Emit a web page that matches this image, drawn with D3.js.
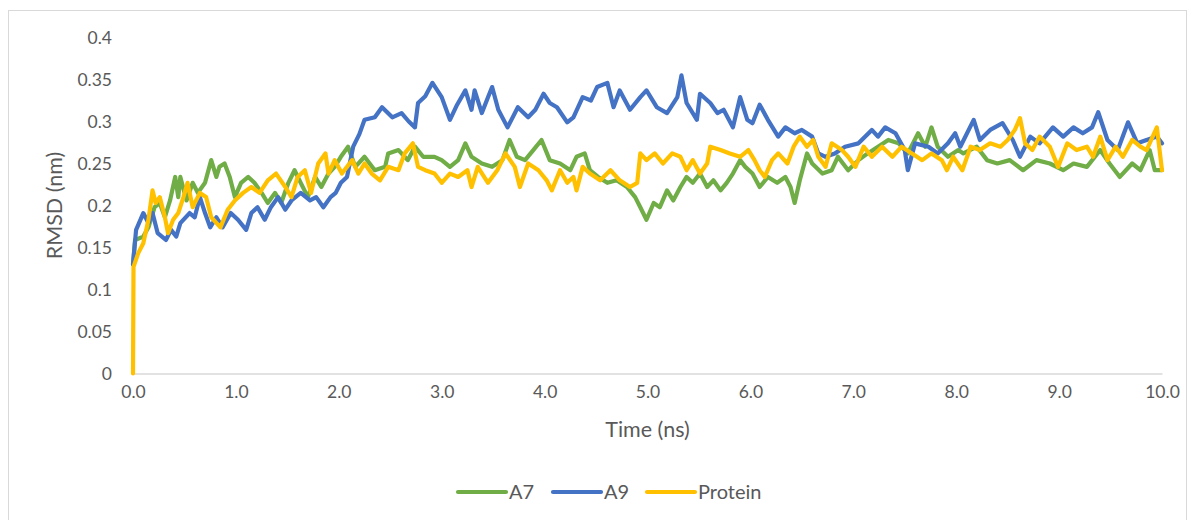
<!DOCTYPE html>
<html><head><meta charset="utf-8">
<script src="https://cdn.jsdelivr.net/npm/d3@7"></script>
<style>body{margin:0;background:#fff}svg{display:block}</style>
</head><body>
<script>
// ---- data ----
const seriesNames = ["A7", "A9", "Protein"];
const xTicks = [0,1,2,3,4,5,6,7,8,9,10];
const yTicks = [0,0.05,0.1,0.15,0.2,0.25,0.3,0.35,0.4];

const tA7 = [0,0.02,0.1,0.15,0.21,0.26,0.31,0.36,0.41,0.44,0.46,0.52,0.58,0.63,0.7,0.76,0.81,0.84,0.89,0.94,0.99,1.05,1.12,1.18,1.25,1.31,1.38,1.44,1.51,1.57,1.63,1.7,1.77,1.83,1.9,1.96,2.02,2.09,2.16,2.25,2.35,2.45,2.48,2.58,2.67,2.74,2.82,2.93,3.0,3.08,3.16,3.23,3.29,3.39,3.49,3.59,3.66,3.73,3.81,3.89,3.97,4.05,4.15,4.25,4.31,4.39,4.44,4.52,4.61,4.7,4.8,4.88,4.93,4.99,5.06,5.12,5.19,5.25,5.32,5.38,5.44,5.51,5.58,5.64,5.71,5.77,5.83,5.9,5.95,6.02,6.09,6.17,6.26,6.34,6.39,6.43,6.48,6.55,6.6,6.7,6.79,6.85,6.95,7.05,7.14,7.24,7.34,7.44,7.53,7.63,7.7,7.76,7.82,7.92,8.02,8.07,8.2,8.3,8.4,8.52,8.65,8.78,8.91,9.04,9.14,9.27,9.4,9.49,9.59,9.71,9.79,9.88,9.93,10.0];
const vA7 = [0.13,0.159,0.163,0.174,0.198,0.203,0.186,0.206,0.234,0.21,0.234,0.206,0.227,0.215,0.227,0.254,0.234,0.246,0.25,0.234,0.21,0.227,0.234,0.227,0.215,0.203,0.215,0.203,0.227,0.242,0.227,0.21,0.234,0.222,0.238,0.246,0.258,0.27,0.246,0.258,0.242,0.246,0.262,0.266,0.254,0.27,0.258,0.258,0.254,0.246,0.254,0.274,0.258,0.25,0.246,0.254,0.278,0.258,0.254,0.266,0.278,0.254,0.25,0.242,0.258,0.262,0.242,0.234,0.227,0.23,0.222,0.21,0.198,0.183,0.203,0.198,0.218,0.206,0.222,0.234,0.227,0.238,0.222,0.23,0.218,0.227,0.238,0.254,0.246,0.238,0.222,0.234,0.227,0.234,0.222,0.203,0.23,0.262,0.25,0.238,0.242,0.258,0.242,0.254,0.262,0.27,0.278,0.274,0.262,0.286,0.27,0.293,0.27,0.258,0.266,0.262,0.27,0.254,0.25,0.254,0.242,0.254,0.25,0.242,0.25,0.246,0.266,0.25,0.234,0.25,0.242,0.266,0.242,0.242];

const tA9 = [0,0.03,0.1,0.15,0.19,0.24,0.32,0.37,0.42,0.46,0.55,0.6,0.65,0.7,0.75,0.81,0.87,0.95,1.02,1.1,1.15,1.21,1.28,1.34,1.41,1.48,1.54,1.63,1.72,1.78,1.85,1.92,1.97,2.02,2.08,2.14,2.2,2.25,2.35,2.42,2.52,2.61,2.68,2.74,2.77,2.84,2.91,3.0,3.08,3.15,3.23,3.29,3.32,3.39,3.45,3.49,3.55,3.64,3.74,3.84,3.91,3.99,4.05,4.12,4.22,4.28,4.37,4.45,4.51,4.61,4.67,4.73,4.83,4.93,4.99,5.09,5.19,5.29,5.33,5.38,5.48,5.51,5.61,5.68,5.74,5.83,5.9,5.97,6.02,6.09,6.17,6.27,6.34,6.43,6.5,6.6,6.66,6.73,6.82,6.92,7.05,7.18,7.24,7.31,7.41,7.5,7.53,7.6,7.73,7.82,7.92,7.99,8.04,8.17,8.23,8.33,8.45,8.55,8.62,8.72,8.81,8.94,9.04,9.14,9.23,9.32,9.38,9.47,9.57,9.67,9.76,9.85,9.95,10.0];
const vA9 = [0.13,0.171,0.191,0.179,0.191,0.167,0.159,0.171,0.163,0.179,0.191,0.186,0.21,0.191,0.174,0.186,0.174,0.191,0.183,0.171,0.191,0.198,0.183,0.198,0.21,0.195,0.206,0.215,0.206,0.21,0.198,0.21,0.215,0.227,0.234,0.27,0.285,0.302,0.305,0.317,0.305,0.31,0.3,0.293,0.322,0.33,0.346,0.329,0.302,0.32,0.337,0.314,0.337,0.31,0.329,0.341,0.314,0.293,0.317,0.305,0.314,0.333,0.322,0.317,0.299,0.305,0.329,0.325,0.341,0.346,0.317,0.337,0.314,0.329,0.337,0.317,0.31,0.329,0.355,0.322,0.302,0.333,0.322,0.31,0.314,0.293,0.329,0.302,0.298,0.32,0.302,0.282,0.293,0.286,0.29,0.282,0.262,0.258,0.262,0.27,0.274,0.29,0.282,0.293,0.286,0.266,0.242,0.274,0.27,0.262,0.274,0.286,0.27,0.302,0.278,0.29,0.298,0.278,0.258,0.282,0.274,0.293,0.282,0.293,0.286,0.293,0.311,0.278,0.266,0.299,0.274,0.278,0.282,0.274];

const tProtein = [0,0.005,0.05,0.1,0.15,0.19,0.22,0.26,0.31,0.34,0.39,0.44,0.49,0.53,0.58,0.65,0.71,0.76,0.85,0.92,0.99,1.07,1.15,1.23,1.31,1.39,1.48,1.54,1.6,1.67,1.73,1.8,1.87,1.9,1.96,2.03,2.13,2.19,2.25,2.32,2.4,2.48,2.58,2.64,2.72,2.77,2.84,2.93,3.0,3.08,3.16,3.25,3.29,3.35,3.45,3.54,3.62,3.71,3.76,3.84,3.94,4.02,4.07,4.15,4.22,4.28,4.31,4.37,4.44,4.54,4.64,4.73,4.83,4.9,4.93,4.99,5.07,5.15,5.24,5.32,5.38,5.44,5.51,5.58,5.61,5.71,5.8,5.9,5.98,6.04,6.09,6.14,6.21,6.27,6.36,6.42,6.48,6.55,6.61,6.66,6.73,6.79,6.89,6.95,7.02,7.1,7.18,7.28,7.38,7.47,7.57,7.67,7.76,7.86,7.91,7.97,8.06,8.14,8.23,8.33,8.43,8.5,8.57,8.62,8.67,8.74,8.81,8.91,8.99,9.08,9.17,9.27,9.33,9.4,9.47,9.55,9.62,9.71,9.79,9.85,9.95,10.0];
const vProtein = [0,0.127,0.143,0.155,0.183,0.218,0.203,0.21,0.186,0.167,0.183,0.191,0.21,0.227,0.198,0.215,0.21,0.186,0.174,0.195,0.206,0.215,0.222,0.215,0.23,0.238,0.222,0.21,0.234,0.242,0.215,0.25,0.262,0.238,0.254,0.238,0.254,0.238,0.25,0.238,0.23,0.246,0.242,0.262,0.274,0.246,0.242,0.238,0.227,0.238,0.234,0.242,0.222,0.246,0.227,0.242,0.262,0.246,0.222,0.25,0.242,0.23,0.218,0.242,0.227,0.234,0.218,0.246,0.238,0.23,0.242,0.23,0.222,0.227,0.262,0.254,0.262,0.25,0.262,0.258,0.242,0.254,0.238,0.25,0.27,0.266,0.262,0.258,0.266,0.254,0.242,0.234,0.254,0.262,0.25,0.27,0.282,0.27,0.278,0.258,0.246,0.274,0.266,0.258,0.246,0.27,0.258,0.27,0.258,0.27,0.262,0.254,0.262,0.254,0.242,0.258,0.242,0.27,0.266,0.274,0.27,0.278,0.29,0.304,0.274,0.266,0.282,0.27,0.246,0.274,0.266,0.27,0.258,0.282,0.254,0.27,0.258,0.278,0.27,0.266,0.293,0.242];

const colors = ["#70ad47", "#4472c4", "#ffc000"];
const seriesT = [tA7, tA9, tProtein];
const seriesV = [vA7, vA9, vProtein];

// ---- drawing ----
const W = 1195, H = 520;
const FONT = "Lato, 'Open Sans', sans-serif";
const TXT = "#595959";
const svg = d3.select("body").append("svg").attr("width", W).attr("height", H);
svg.append("rect").attr("width", W).attr("height", H).attr("fill", "#fff");
svg.append("rect").attr("x", 8.5).attr("y", 10.5).attr("width", 1178).attr("height", 530)
  .attr("fill", "none").attr("stroke", "#d9d9d9").attr("stroke-width", 1);

const x = d3.scaleLinear().domain([0, 10]).range([133, 1162]);
const y = d3.scaleLinear().domain([0, 0.4]).range([373.5, 37.5]);

// x axis baseline
const xAxis = d3.axisBottom(x).tickValues(xTicks).tickSize(0).tickPadding(12)
  .tickFormat(d => d3.format(".1f")(d));
const gx = svg.append("g").attr("transform", `translate(0,${y(0)})`).call(xAxis);
gx.select(".domain").attr("stroke", "#d9d9d9").attr("stroke-width", 1.3);
gx.selectAll("text").attr("font-family", FONT).attr("font-size", 17.5).attr("fill", TXT);

const yAxis = d3.axisLeft(y).tickValues(yTicks).tickSize(0).tickPadding(21)
  .tickFormat(d => String(+d.toFixed(2)));
const gy = svg.append("g").attr("transform", `translate(${x(0)},0)`).call(yAxis);
gy.select(".domain").remove();
gy.selectAll("text").attr("font-family", FONT).attr("font-size", 17.5).attr("fill", TXT);

// lines
const line = d3.line().x(d => x(d[0])).y(d => y(d[1])).curve(d3.curveLinear);
seriesNames.forEach((name, i) => {
  const pts = seriesT[i].map((t, j) => [t, seriesV[i][j]]);
  svg.append("path").datum(pts).attr("d", line)
    .attr("fill", "none").attr("stroke", colors[i]).attr("stroke-width", 4.2)
    .attr("stroke-linejoin", "round").attr("stroke-linecap", "round");
});

// axis titles
svg.append("text").attr("x", (x(0) + x(10)) / 2).attr("y", 437).attr("text-anchor", "middle")
  .attr("font-family", FONT).attr("font-size", 21.5).attr("fill", TXT).text("Time (ns)");
svg.append("text").attr("transform", `translate(62,${y(0.2)}) rotate(-90)`).attr("text-anchor", "middle")
  .attr("font-family", FONT).attr("font-size", 21.5).attr("fill", TXT).text("RMSD (nm)");

// legend
const legX = [458, 553, 647];
const lg = svg.append("g");
seriesNames.forEach((name, i) => {
  lg.append("line").attr("x1", legX[i]).attr("x2", legX[i] + 48).attr("y1", 492).attr("y2", 492)
    .attr("stroke", colors[i]).attr("stroke-width", 4.2).attr("stroke-linecap", "round");
  lg.append("text").attr("x", legX[i] + 51).attr("y", 499).attr("font-family", FONT)
    .attr("font-size", 20).attr("fill", TXT).text(name);
});
</script>
</body></html>
